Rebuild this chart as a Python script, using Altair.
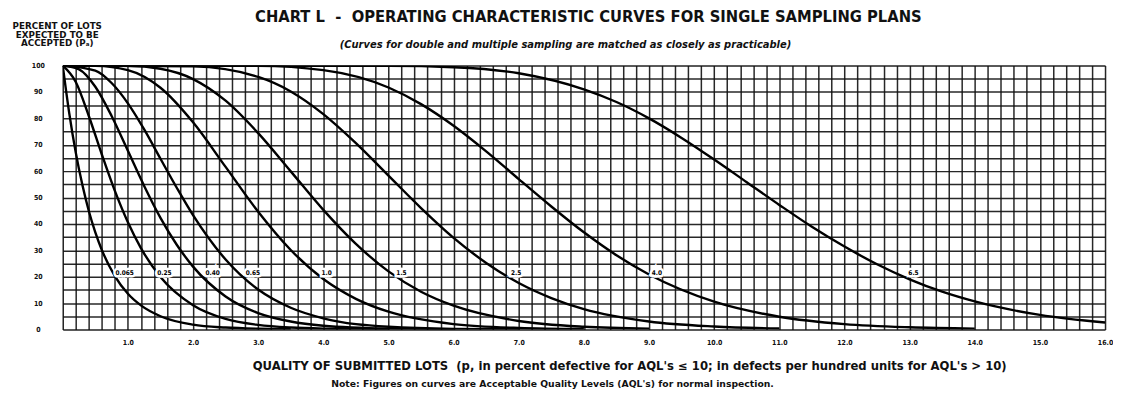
import altair as alt
import pandas as pd

# ---- data (p in percent defective, Pa in percent) ----
aql_labels = ["0.065", "0.25", "0.40", "0.65", "1.0", "1.5", "2.5", "4.0", "6.5"]

p_0065 = [0, 0.1, 0.2, 0.3, 0.4, 0.5, 0.6, 0.8, 1.0, 1.2, 1.5, 2.0, 2.5, 3.0, 3.5]
pa_0065 = [100, 81.9, 67.0, 54.9, 44.9, 36.8, 30.1, 20.2, 13.5, 9.1, 5.0, 1.8, 0.7, 0.25, 0.1]

p_025 = [0, 0.2, 0.4, 0.6, 0.8, 1.0, 1.2, 1.5, 2.0, 2.5, 3.0, 3.5, 4.0, 5.0]
pa_025 = [100, 93.8, 80.9, 66.3, 52.5, 40.6, 30.8, 19.9, 9.2, 4.0, 1.7, 0.7, 0.3, 0.05]

p_040 = [0, 0.25, 0.5, 0.75, 1.0, 1.25, 1.5, 1.75, 2.0, 2.5, 3.0, 3.5, 4.0, 5.0, 6.0]
pa_040 = [100, 98.6, 92.0, 80.9, 67.7, 54.4, 42.3, 32.1, 23.8, 12.5, 6.2, 3.0, 1.4, 0.3, 0.05]

p_065 = [0, 0.5, 0.75, 1.0, 1.25, 1.5, 1.75, 2.0, 2.5, 3.0, 3.5, 4.0, 5.0, 6.0, 7.0]
pa_065 = [100, 98.1, 93.4, 85.7, 75.8, 64.7, 53.7, 43.3, 26.5, 15.1, 8.2, 4.2, 1.0, 0.2, 0.05]

p_10 = [0, 0.5, 1.0, 1.5, 2.0, 2.5, 3.0, 3.5, 4.0, 4.5, 5.0, 6.0, 7.0, 8.0]
pa_10 = [100, 99.9, 98.3, 91.6, 78.5, 61.6, 44.6, 30.1, 19.1, 11.6, 6.7, 2.0, 0.55, 0.14]

p_15 = [0, 1.0, 1.5, 2.0, 2.5, 3.0, 3.5, 4.0, 4.5, 5.0, 5.5, 6.0, 7.0, 8.0, 9.0]
pa_15 = [100, 99.9, 98.8, 94.9, 86.7, 74.4, 59.9, 45.3, 32.4, 22.0, 14.3, 9.0, 3.2, 1.0, 0.3]

p_25 = [0, 2.0, 3.0, 3.5, 4.0, 4.5, 5.0, 5.5, 6.0, 6.5, 7.0, 7.5, 8.0, 9.0, 10.0, 11.0]
pa_25 = [100, 99.7, 95.7, 90.2, 81.6, 70.6, 58.3, 46.0, 34.7, 25.2, 17.6, 11.9, 7.7, 3.0, 1.1, 0.35]

p_40 = [0, 3.0, 4.0, 5.0, 5.5, 6.0, 6.5, 7.0, 7.5, 8.0, 8.5, 9.0, 10.0, 11.0, 12.0, 13.0, 14.0]
pa_40 = [100, 99.9, 98.3, 91.7, 85.4, 77.2, 67.5, 57.0, 46.6, 36.8, 28.1, 20.8, 10.5, 4.8, 2.0, 0.8, 0.3]

p_65 = [0, 5.0, 6.0, 7.0, 8.0, 8.5, 9.0, 9.5, 10.0, 10.5, 11.0, 11.5, 12.0, 12.5, 13.0, 13.5, 14.0, 15.0, 16.0]
pa_65 = [100, 99.9, 99.4, 97.1, 91.0, 86.2, 80.0, 72.6, 64.4, 55.8, 47.2, 38.9, 31.4, 24.7, 19.0, 14.3, 10.6, 5.5, 2.6]

label_p = [0.95, 1.56, 2.3, 2.92, 4.05, 5.2, 6.96, 9.12, 13.06]
label_pa = [21.5] * 9

x_ticks = [round(i * 0.2, 1) for i in range(81)]
y_ticks = list(range(0, 101, 5))

NB = "\u00a0"
title_text = "CHART L" + NB + NB + "-" + NB + NB + "OPERATING CHARACTERISTIC CURVES FOR SINGLE SAMPLING PLANS"
subtitle_text = "(Curves for double and multiple sampling are matched as closely as practicable)"
note_text = "Note: Figures on curves are Acceptable Quality Levels (AQL's) for normal inspection."

curves = [
    (p_0065, pa_0065), (p_025, pa_025), (p_040, pa_040), (p_065, pa_065),
    (p_10, pa_10), (p_15, pa_15), (p_25, pa_25), (p_40, pa_40), (p_65, pa_65),
]

rows = []
for lab, (ps, pas) in zip(aql_labels, curves):
    for i, (p, pa) in enumerate(zip(ps, pas)):
        rows.append({"aql": lab, "p": p, "pa": pa, "order": i})
df = pd.DataFrame(rows)
lab_df = pd.DataFrame({"aql": aql_labels, "p": label_p, "pa": label_pa})
title_df = pd.DataFrame({"t": [title_text]})
sub_df = pd.DataFrame({"t": [subtitle_text]})
note_df = pd.DataFrame({"t": [note_text]})

COND = "DejaVu Sans Condensed, Liberation Sans Narrow, DejaVu Sans"
WIDE = "DejaVu Sans, Liberation Sans"

x_enc = alt.X(
    "p:Q",
    scale=alt.Scale(domain=[0, 16], nice=False, zero=False),
    axis=alt.Axis(
        values=x_ticks, tickCount=len(x_ticks) + 5,
        labelExpr="(abs(datum.value - round(datum.value)) < 0.01 && datum.value > 0) ? format(datum.value, '.1f') : ''",
        grid=True, ticks=False, domain=False,
        gridColor="#111111", gridWidth=1.5, gridOpacity=0.9,
        labelFont=COND, labelFontSize=7, labelFontWeight="bold", labelColor="#111",
        labelPadding=9, labelOverlap=False, labelFlush=False, labelBound=False,
        title="QUALITY OF SUBMITTED LOTS" + NB + NB + "(p, in percent defective for AQL's \u2264 10; in defects per hundred units for AQL's > 10)",
        titleFont=WIDE, titleFontSize=11.7, titleFontWeight="bold", titleColor="#111",
        titleX=569, titleY=31, titleAlign="center", titleBaseline="top",
    ),
)
y_enc = alt.Y(
    "pa:Q",
    scale=alt.Scale(domain=[0, 100], nice=False),
    axis=alt.Axis(
        values=y_ticks, tickCount=len(y_ticks) + 5,
        labelExpr="datum.value % 10 == 0 ? datum.value : ''",
        grid=True, ticks=False, domain=False,
        gridColor="#111111", gridWidth=1.5, gridOpacity=0.9,
        labelFont=COND, labelFontSize=7, labelFontWeight="bold", labelColor="#111",
        labelAlign="center", labelPadding=25, labelOverlap=False, labelBound=False,
        title=["PERCENT OF LOTS", "EXPECTED TO BE", "ACCEPTED (P\u2090)"],
        titleFont=WIDE, titleFontSize=8.8, titleFontWeight="bold", titleColor="#111",
        titleAngle=0, titleAlign="center", titleBaseline="top",
        titleX=-6, titleY=-44, titleLineHeight=8.5,
    ),
)

lines = alt.Chart(df).mark_line(
    color="black", strokeWidth=2.4, interpolate="monotone", clip=True
).encode(x=x_enc, y=y_enc, detail="aql:N", order="order:Q")

halo = alt.Chart(lab_df).mark_text(
    font=COND, fontSize=6.5, fontWeight="bold", color="white",
    stroke="white", strokeWidth=5,
).encode(x="p:Q", y="pa:Q", text="aql:N")

labels = alt.Chart(lab_df).mark_text(
    font=COND, fontSize=6.5, fontWeight="bold", color="black",
).encode(x="p:Q", y="pa:Q", text="aql:N")

title_mark = alt.Chart(title_df).mark_text(
    font=COND, fontSize=16.5, fontWeight="bold", color="#111", align="center", baseline="middle",
).encode(x=alt.value(528), y=alt.value(-49), text="t:N")

sub_mark = alt.Chart(sub_df).mark_text(
    font=WIDE, fontSize=10, fontWeight="bold", fontStyle="italic", color="#111",
    align="center", baseline="middle",
).encode(x=alt.value(505), y=alt.value(-21), text="t:N")

note = alt.Chart(note_df).mark_text(
    font=WIDE, fontSize=9.3, fontWeight="bold", color="#111", align="center", baseline="middle",
).encode(x=alt.value(492), y=alt.value(320), text="t:N")

chart = alt.layer(lines, halo, labels, title_mark, sub_mark, note).properties(
    width=1047,
    height=265,
    padding={"left": 55, "top": 57, "right": 8, "bottom": 60},
    autosize=alt.AutoSizeParams(type="none"),
).configure_view(stroke="black", strokeWidth=3).configure(background="white")

chart.save("out.html", embed_options={"renderer": "svg", "actions": False})
